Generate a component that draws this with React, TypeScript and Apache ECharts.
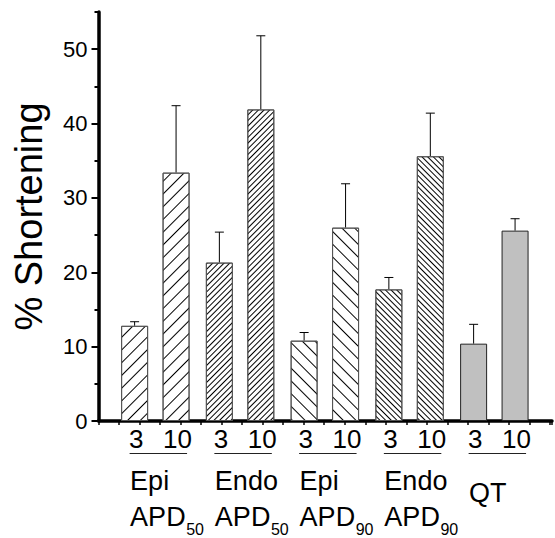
import React, { useEffect, useRef } from 'react';
import * as echarts from 'echarts';

// ---- data ----
const doseLabels = ['3', '10'];
const groupTop = ['Epi', 'Endo', 'Epi', 'Endo', 'QT'];
const groupMain = ['APD', 'APD', 'APD', 'APD', ''];
const groupSub = ['50', '50', '90', '90', ''];
const means = [12.8, 33.4, 21.3, 41.9, 10.8, 26.0, 17.7, 35.6, 10.4, 25.6];
const errors = [0.55, 9.0, 4.1, 9.9, 1.1, 5.9, 1.6, 5.8, 2.6, 1.6];
const majorTicks = [0, 10, 20, 30, 40, 50];
const minorTicks = [5, 15, 25, 35, 45, 55];
const yTitle = '% Shortening';

// ---- layout / style ----
const FONT = 'Liberation Sans, Arial, Helvetica, sans-serif';
const groupStart = 2.77;
const groupStep = 4.13;
const pairHalf = 1.01;
const pos = (i: number) =>
  groupStart + groupStep * Math.floor(i / 2) + (i % 2 ? pairHalf : -pairHalf);

const decalFor = (g: number): any => {
  if (g === 0) return { symbol: 'rect', symbolSize: 1, dashArrayX: [1, 0], dashArrayY: [1, 8], rotation: -Math.PI / 4, color: '#000' };
  if (g === 1) return { symbol: 'rect', symbolSize: 1, dashArrayX: [1, 0], dashArrayY: [1, 3], rotation: -Math.PI / 4, color: '#000' };
  if (g === 2) return { symbol: 'rect', symbolSize: 1, dashArrayX: [1, 0], dashArrayY: [1, 8], rotation: Math.PI / 4, color: '#000' };
  if (g === 3) return { symbol: 'rect', symbolSize: 1, dashArrayX: [1, 0], dashArrayY: [1, 3], rotation: Math.PI / 4, color: '#000' };
  return 'none';
};

let measureCtx: CanvasRenderingContext2D | null = null;
const textWidth = (t: string, font: string) => {
  if (!measureCtx) measureCtx = document.createElement('canvas').getContext('2d');
  if (!measureCtx) return t.length * 15;
  measureCtx.font = font;
  return measureCtx.measureText(t).width;
};

export default function App() {
  const ref = useRef<HTMLDivElement>(null);
  useEffect(() => {
    if (!ref.current) return;
    const chart = echarts.init(ref.current, undefined, { renderer: 'svg' });

    const barData = means.map((v, i) => {
      const g = Math.floor(i / 2);
      return {
        value: [pos(i), v],
        itemStyle: {
          color: g === 4 ? '#c0c0c0' : '#ffffff',
          borderColor: g === 4 ? '#222' : '#555',
          borderWidth: 1,
          decal: decalFor(g),
        },
      };
    });

    const errData = means.map((v, i) => [pos(i), v, errors[i]]);
    const labelData = groupTop.map((_, g) => [g, 0]);

    chart.setOption({
      animation: false,
      grid: { left: 98.5, right: 3, top: 12, bottom: 117, containLabel: false },
      xAxis: {
        type: 'value',
        min: 0,
        max: 22.1,
        interval: 1,
        axisLine: { show: true, onZero: false, lineStyle: { color: '#000', width: 3.5 } },
        axisTick: { show: true, length: 4, lineStyle: { color: '#000', width: 1.5 } },
        axisLabel: { show: false },
        splitLine: { show: false },
      },
      yAxis: [
        {
          type: 'value',
          min: 0,
          max: 55,
          interval: 10,
          name: yTitle,
          nameLocation: 'middle',
          nameRotate: 90,
          nameGap: 51,
          nameTextStyle: { fontSize: 38, fontFamily: FONT, color: '#000' },
          axisLine: { show: true, lineStyle: { color: '#000', width: 3.5 } },
          axisTick: { show: true, length: 7, customValues: majorTicks, lineStyle: { color: '#000', width: 2 } },
          axisLabel: { show: true, customValues: majorTicks, margin: 11, fontSize: 22, fontFamily: FONT, color: '#000' },
          splitLine: { show: false },
        },
        {
          type: 'value',
          min: 0,
          max: 55,
          position: 'left',
          axisLine: { show: false },
          axisTick: { show: true, length: 4, customValues: minorTicks, lineStyle: { color: '#000', width: 2 } },
          axisLabel: { show: false },
          splitLine: { show: false },
        },
      ],
      series: [
        {
          type: 'bar',
          yAxisIndex: 0,
          barWidth: 27,
          data: barData,
        },
        {
          type: 'custom',
          yAxisIndex: 0,
          clip: false,
          silent: true,
          data: errData,
          encode: { x: 0, y: 1 },
          renderItem: (_params: any, api: any) => {
            const x = api.value(0);
            const y = api.value(1);
            const e = api.value(2);
            const p0 = api.coord([x, y]);
            const p1 = api.coord([x, y + e]);
            const st = { stroke: '#000', lineWidth: 1 };
            return {
              type: 'group',
              children: [
                { type: 'line', shape: { x1: p0[0], y1: p0[1], x2: p1[0], y2: p1[1] }, style: st },
                { type: 'line', shape: { x1: p1[0] - 4.5, y1: p1[1], x2: p1[0] + 4.5, y2: p1[1] }, style: st },
              ],
            };
          },
        },
        {
          type: 'custom',
          yAxisIndex: 0,
          clip: false,
          silent: true,
          data: labelData,
          encode: { x: 0, y: 1 },
          renderItem: (_params: any, api: any) => {
            const g = api.value(0);
            const l = api.coord([pos(2 * g), 0]);
            const r = api.coord([pos(2 * g + 1), 0]);
            const y0 = l[1];
            const children: any[] = [];
            const doseFont = 26;
            children.push({ type: 'text', style: { text: doseLabels[0], x: l[0] + 1.5, y: y0 + 18, fontSize: doseFont, fontFamily: FONT, fill: '#000', align: 'center', verticalAlign: 'middle' } });
            children.push({ type: 'text', style: { text: doseLabels[1], x: r[0] + 1.5, y: y0 + 18, fontSize: doseFont, fontFamily: FONT, fill: '#000', align: 'center', verticalAlign: 'middle' } });
            children.push({ type: 'line', shape: { x1: l[0] - 5, y1: y0 + 32.5, x2: r[0] + 11, y2: y0 + 32.5 }, style: { stroke: '#222', lineWidth: 1 } });
            const left = l[0] - 4.5;
            const main = groupMain[g];
            children.push({ type: 'text', style: { text: groupTop[g], x: left, y: y0 + (main ? 60 : 72), fontSize: 27, fontFamily: FONT, fill: '#000', align: 'left', verticalAlign: 'middle' } });
            if (main) {
              children.push({ type: 'text', style: { text: main, x: left, y: y0 + 96, fontSize: 27, fontFamily: FONT, fill: '#000', align: 'left', verticalAlign: 'middle' } });
              const w = textWidth(main, '27px ' + FONT);
              children.push({ type: 'text', style: { text: groupSub[g], x: left + w + 0.5, y: y0 + 108.5, fontSize: 16, fontFamily: FONT, fill: '#000', align: 'left', verticalAlign: 'middle' } });
            }
            return { type: 'group', children };
          },
        },
      ],
    });
    return () => chart.dispose();
  }, []);
  return (
    <div
      ref={ref}
      style={{ position: 'fixed', left: 0, top: 0, width: 555, height: 538, background: '#fff' }}
    />
  );
}
